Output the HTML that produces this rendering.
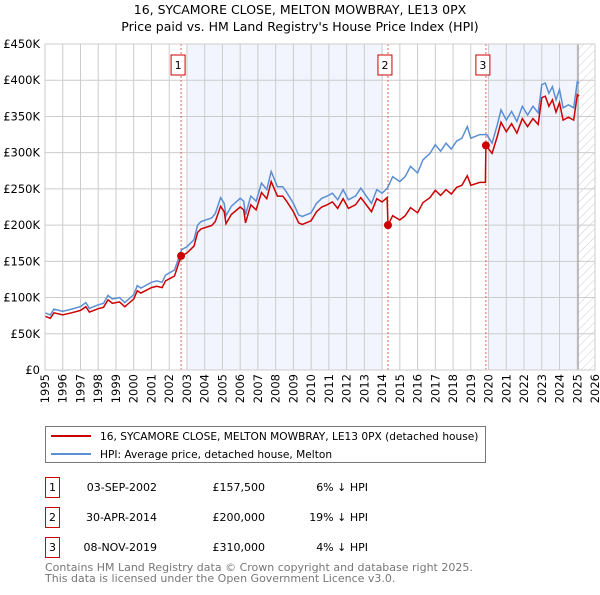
<!DOCTYPE html>
<html><head><meta charset="utf-8"><style>
body{margin:0;background:#fff;font-family:"Liberation Sans","DejaVu Sans",sans-serif;}
svg text{font-family:"DejaVu Sans","Liberation Sans",sans-serif;}
</style></head><body>
<svg id="chart" width="600" height="590" viewBox="0 0 600 590" xmlns="http://www.w3.org/2000/svg">
<defs><pattern id="hatch" width="6" height="6" patternUnits="userSpaceOnUse" patternTransform="rotate(45)"><line x1="0" y1="0" x2="0" y2="6" stroke="#ccc" stroke-width="1"/></pattern></defs>
<text x="300" y="14" text-anchor="middle" font-size="12.5">16, SYCAMORE CLOSE, MELTON MOWBRAY, LE13 0PX</text>
<text x="300" y="31" text-anchor="middle" font-size="12.5">Price paid vs. HM Land Registry's House Price Index (HPI)</text>
<g id="plot"></g>
<g>
<rect x="45.5" y="426.5" width="440" height="36" fill="#fff" stroke="#777"/>
<line x1="51" y1="436" x2="91" y2="436" stroke="#cc0000" stroke-width="2"/>
<text x="100" y="440" font-size="10.6">16, SYCAMORE CLOSE, MELTON MOWBRAY, LE13 0PX (detached house)</text>
<line x1="51" y1="454" x2="91" y2="454" stroke="#5b8fd4" stroke-width="2"/>
<text x="100" y="458" font-size="10.6">HPI: Average price, detached house, Melton</text>
</g>
<g font-size="11">
<rect x="45.5" y="477.5" width="14" height="20" fill="#fff" stroke="#cc0000"/><text x="52.5" y="491" text-anchor="middle">1</text>
<text x="157" y="491" text-anchor="end">03-SEP-2002</text><text x="265" y="491" text-anchor="end">£157,500</text><text x="368" y="491" text-anchor="end">6% ↓ HPI</text>
<rect x="45.5" y="507.5" width="14" height="20" fill="#fff" stroke="#cc0000"/><text x="52.5" y="521" text-anchor="middle">2</text>
<text x="157" y="521" text-anchor="end">30-APR-2014</text><text x="265" y="521" text-anchor="end">£200,000</text><text x="368" y="521" text-anchor="end">19% ↓ HPI</text>
<rect x="45.5" y="537.5" width="14" height="20" fill="#fff" stroke="#cc0000"/><text x="52.5" y="551" text-anchor="middle">3</text>
<text x="157" y="551" text-anchor="end">08-NOV-2019</text><text x="265" y="551" text-anchor="end">£310,000</text><text x="368" y="551" text-anchor="end">4% ↓ HPI</text>
</g>
<text x="45" y="571" font-size="11" fill="#777">Contains HM Land Registry data © Crown copyright and database right 2025.</text>
<text x="45" y="582" font-size="11" fill="#777">This data is licensed under the Open Government Licence v3.0.</text>
</svg>
<script>
const yTicks=[0,50,100,150,200,250,300,350,400,450];
const yTickLabels=["£0","£50K","£100K","£150K","£200K","£250K","£300K","£350K","£400K","£450K"];
const xTicks=[1995,1996,1997,1998,1999,2000,2001,2002,2003,2004,2005,2006,2007,2008,2009,2010,2011,2012,2013,2014,2015,2016,2017,2018,2019,2020,2021,2022,2023,2024,2025,2026];
const hpiYears=[1995.0,1995.3,1995.5,1996.0,1996.5,1997.0,1997.3,1997.5,1998.0,1998.3,1998.55,1998.8,1999.2,1999.5,2000.0,2000.2,2000.4,2001.0,2001.3,2001.6,2001.8,2002.3,2002.7,2003.0,2003.4,2003.6,2003.8,2004.4,2004.6,2004.9,2005.1,2005.2,2005.5,2006.0,2006.2,2006.3,2006.6,2006.9,2007.2,2007.5,2007.75,2008.1,2008.4,2008.6,2009.0,2009.3,2009.5,2010.0,2010.3,2010.6,2010.9,2011.2,2011.5,2011.8,2012.1,2012.5,2012.8,2013.2,2013.4,2013.7,2014.0,2014.3,2014.6,2015.0,2015.3,2015.6,2016.0,2016.3,2016.7,2017.0,2017.3,2017.6,2017.9,2018.2,2018.5,2018.8,2019.0,2019.5,2019.9,2020.2,2020.5,2020.7,2021.0,2021.3,2021.6,2021.9,2022.2,2022.5,2022.8,2023.0,2023.2,2023.4,2023.6,2023.8,2024.0,2024.2,2024.5,2024.8,2025.0,2025.1];
const hpiValues=[79,76,84,81,84,87.5,93,85,90,92,103,98,100,93,104,116.5,113,121,123,121,131,138,166,170,180,200,205,210,216,238,230,213,226,237,233,214,240,233,258,249,274,253,253,246,230,214,212,217,230,237,240,244,235,249,235,240,251,237,230,249,244,251,267,260,267,281,272,290,299,311,302,313,305,316,320,336,320,325,325,313,339,359,345,357,343,364,352,364,355,394,396,382,391,373,387,362,366,362,398,396];
const redYears=[1995.0,1995.3,1995.5,1996.0,1996.5,1997.0,1997.3,1997.5,1998.0,1998.3,1998.55,1998.8,1999.2,1999.5,2000.0,2000.2,2000.4,2001.0,2001.3,2001.6,2001.8,2002.3,2002.67,2003.0,2003.4,2003.6,2003.8,2004.4,2004.6,2004.9,2005.1,2005.2,2005.5,2006.0,2006.2,2006.3,2006.6,2006.9,2007.2,2007.5,2007.75,2008.1,2008.4,2008.6,2009.0,2009.3,2009.5,2010.0,2010.3,2010.6,2010.9,2011.2,2011.5,2011.8,2012.1,2012.5,2012.8,2013.2,2013.4,2013.7,2014.0,2014.28,2014.33,2014.6,2015.0,2015.3,2015.6,2016.0,2016.3,2016.7,2017.0,2017.3,2017.6,2017.9,2018.2,2018.5,2018.8,2019.0,2019.5,2019.82,2019.85,2020.2,2020.5,2020.7,2021.0,2021.3,2021.6,2021.9,2022.2,2022.5,2022.8,2023.0,2023.2,2023.4,2023.6,2023.8,2024.0,2024.2,2024.5,2024.8,2025.0,2025.1];
const redValues=[74.3,71.4,79,76.1,79,82.3,87.4,79.9,84.6,86.5,96.8,92.1,94,87.4,97.8,109.5,106.2,113.7,115.6,113.7,123.1,129.7,157.5,161.5,171,190,194.8,199.5,205,226,218.5,202,214.7,225,221,203,228,221,245,236.5,260,240,240,233.7,218.5,203,201,206,218.5,225,228,232,223,236.5,223,228,238,225,218.5,236.5,232,238,200,213,207,213,224,217,231,238,248,241,249,243,252,255,268,255,259,259,310,299,323,342,329,340,327,347,336,347,339,376,378,364,373,356,369,345,349,345,380,378];
const saleYears=[2002.67,2014.33,2019.85];
const salePrices=[157.5,200,310];
const saleLabels=["1","2","3"];
const shadeStart=[2003,2020], shadeEnd=[2014,2025.05];

const L=45,R=595,T=44,B=370,X0=1995,X1=2026,YMAX=450;
const sx=v=>L+(v-X0)/(X1-X0)*(R-L);
const sy=v=>B-v/YMAX*(B-T);
const NS="http://www.w3.org/2000/svg";
const plot=document.getElementById('plot');
function mk(tag,attrs,parent){const e=document.createElementNS(NS,tag);for(const k in attrs)e.setAttribute(k,attrs[k]);(parent||plot).appendChild(e);return e;}
for(let i=0;i<shadeStart.length;i++){
  const r=mk('rect',{x:sx(shadeStart[i]),y:T,width:sx(shadeEnd[i])-sx(shadeStart[i]),height:B-T,fill:'#f2f5fd'});
  
  
}
const h=mk('rect',{x:sx(2025.05),y:T,width:R-sx(2025.05),height:B-T,fill:'url(#hatch)'});


xTicks.forEach(t=>{
  const ln=mk('line',{x1:sx(t),x2:sx(t),y1:T,y2:B,stroke:'#ccc','stroke-width':1});
  
  
  const tx=mk('text',{x:0,y:0,'font-size':11.5,'text-anchor':'end',transform:`translate(${sx(t)+4},${B+4}) rotate(-90)`});
  tx.textContent=t;
  
  
});
yTicks.forEach((t,i)=>{
  const ln=mk('line',{x1:L,x2:R,y1:sy(t),y2:sy(t),stroke:'#ccc','stroke-width':1});
  
  
  const tx=mk('text',{x:40,y:sy(t)+4,'font-size':11.5,'text-anchor':'end'});
  tx.textContent=yTickLabels[i];
  
  
});
const vl=mk('line',{x1:sx(2025.05),x2:sx(2025.05),y1:T,y2:B,stroke:'#999','stroke-width':1});


saleYears.forEach((y,i)=>{
  const ln=mk('line',{x1:sx(y),x2:sx(y),y1:T,y2:B,stroke:'#e06060','stroke-width':1,'stroke-dasharray':'2,2'});
  
  
  const bx=mk('rect',{x:sx(y)-10,y:55,width:14,height:20,fill:'#fff',stroke:'#cc0000'});
  
  
  const tx=mk('text',{x:sx(y)-3,y:69,'font-size':11,'text-anchor':'middle'});
  tx.textContent=saleLabels[i];
  
  
});
const hp=mk('path',{d:hpiYears.map((y,i)=>(i?'L':'M')+sx(y).toFixed(1)+','+sy(hpiValues[i]).toFixed(1)).join(''),fill:'none',stroke:'#5b8fd4','stroke-width':1.5});


const rp=mk('path',{d:redYears.map((y,i)=>(i?'L':'M')+sx(y).toFixed(1)+','+sy(redValues[i]).toFixed(1)).join(''),fill:'none',stroke:'#cc0000','stroke-width':1.5});


saleYears.forEach((y,i)=>{
  const c=mk('circle',{cx:sx(y),cy:sy(salePrices[i]),r:4,fill:'#cc0000'});
  
  
});
const fr=mk('rect',{x:L,y:T,width:R-L,height:B-T,fill:'none',stroke:'#ccc'});


</script>
</body></html>
